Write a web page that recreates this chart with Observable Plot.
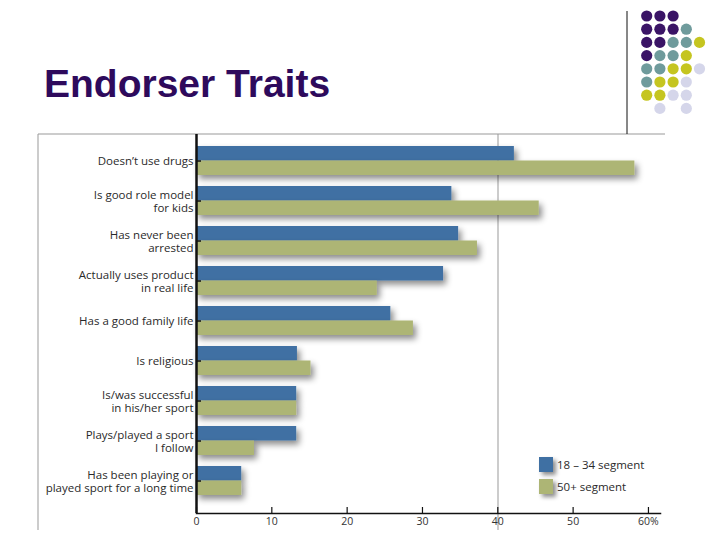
<!DOCTYPE html>
<html>
<head>
<meta charset="utf-8">
<script src="https://cdn.jsdelivr.net/npm/d3@7"></script>
<script src="https://cdn.jsdelivr.net/npm/@observablehq/plot@0.6"></script>
<style>
  html, body { margin: 0; padding: 0; background: #fff; }
  #page { position: relative; width: 720px; height: 540px; overflow: hidden; background: #fff; font-family: "Open Sans", sans-serif; }
  #title { position: absolute; left: 44px; top: 62px; margin: 0; font-family: "Liberation Sans", Arial, sans-serif; font-weight: bold; font-size: 39px; color: #2e0a5c; line-height: 44px; }
  .abs { position: absolute; }
  #chart { position: absolute; left: 0; top: 0; }
  .legend-item { position: absolute; display: flex; align-items: center; font-size: 11.5px; color: #2a2a2a; font-family: "Open Sans", sans-serif; }
  .legend-item .sw { width: 14px; height: 14.5px; margin-right: 4px; box-shadow: 3px 3px 4px rgba(0,0,0,0.45); }
</style>
</head>
<body>
<div id="page">
  <svg class="abs" style="left:0;top:0" width="720" height="540" id="deco"></svg>
  <div id="chart"></div>
  <h1 id="title">Endorser Traits</h1>
  <div id="legend"></div>
</div>
<script>
const traits = [
  "Doesn\u2019t use drugs",
  "Is good role model\nfor kids",
  "Has never been\narrested",
  "Actually uses product\nin real life",
  "Has a good family life",
  "Is religious",
  "Is/was successful\nin his/her sport",
  "Plays/played a sport\nI follow",
  "Has been playing or\nplayed sport for a long time"
];
const youngValues = [42.2, 33.9, 34.8, 32.8, 25.8, 13.4, 13.3, 13.3, 6.0];
const olderValues = [58.2, 45.5, 37.3, 24.0, 28.8, 15.2, 13.3, 7.7, 6.0];
const segments = ["18 \u2013 34 segment", "50+ segment"];
const xTicks = [0, 10, 20, 30, 40, 50, 60];
const xTickLabels = ["0", "10", "20", "30", "40", "50", "60%"];

const blue = "#3f70a3";
const green = "#adb575";

const rows = traits.map((t, i) => ({trait: t, young: youngValues[i], older: olderValues[i]}));

const plot = Plot.plot({
  width: 720,
  height: 540,
  marginLeft: 196,
  marginRight: 60,
  marginTop: 134,
  marginBottom: 27,
  x: {domain: [0, 61.6]},
  y: {domain: traits, range: [132.6, 508.2], padding: 0.284},
  style: {fontFamily: "'Open Sans', sans-serif", fontSize: "11.5px", color: "#2a2a2a", background: "transparent", overflow: "visible"},
  marks: [
    Plot.barX(rows, {y: "trait", x: "young", fill: blue, insetTop: 0, insetBottom: 14.5}),
    Plot.barX(rows, {y: "trait", x: "older", fill: green, insetTop: 14.5, insetBottom: 0}),
    Plot.axisY({tickSize: -5, tickPadding: 8, stroke: "#111", strokeWidth: 1.5, lineHeight: 1.2, fill: "#2a2a2a", label: null}),
    Plot.axisX({ticks: xTicks, tickSize: -6, tickPadding: 10, stroke: "#111", strokeWidth: 1.2, fontSize: 10.5, fill: "#333", label: null,
      tickFormat: d => xTickLabels[xTicks.indexOf(d)]}),
    Plot.frame({anchor: "bottom", stroke: "#111", strokeWidth: 1.5}),
    Plot.ruleX([0], {stroke: "#111", strokeWidth: 2.5})
  ]
});
document.getElementById("chart").appendChild(plot);

// drop shadows on bars
const svg = d3.select(plot);
const defs = svg.insert("defs", ":first-child");
const f = defs.append("filter").attr("id", "barshadow").attr("x", "-10%").attr("y", "-30%").attr("width", "130%").attr("height", "190%");
f.append("feDropShadow").attr("dx", 3).attr("dy", 4).attr("stdDeviation", 3).attr("flood-color", "#000").attr("flood-opacity", 0.45);
svg.selectAll('g[aria-label="bar"]').attr("filter", "url(#barshadow)");

// legend
const legend = document.getElementById("legend");
[blue, green].forEach((c, i) => {
  const item = document.createElement("div");
  item.className = "legend-item";
  item.style.left = "539px";
  item.style.top = (457 + i * 22) + "px";
  item.innerHTML = `<span class="sw" style="background:${c}"></span><span>${segments[i]}</span>`;
  legend.appendChild(item);
});

// slide decoration
const deco = d3.select("#deco");
deco.append("line").attr("x1", 38).attr("x2", 665).attr("y1", 134).attr("y2", 134).attr("stroke", "#999").attr("stroke-width", 1);
deco.append("line").attr("x1", 38).attr("x2", 38).attr("y1", 134).attr("y2", 530).attr("stroke", "#999").attr("stroke-width", 1);
deco.append("line").attr("x1", 498).attr("x2", 498).attr("y1", 134).attr("y2", 530).attr("stroke", "#999").attr("stroke-width", 1);
deco.append("line").attr("x1", 627).attr("x2", 627).attr("y1", 11).attr("y2", 134).attr("stroke", "#111").attr("stroke-width", 1);

const dotColors = {P: "#3a1466", T: "#6f9b9c", Y: "#c5c520", L: "#d5d6ea"};
const dotPattern = [
  "PPP..",
  "PPPT.",
  "PPTTY",
  "PTTY.",
  "TTYYL",
  "TYYL.",
  "YYLL.",
  ".L.L."
];
dotPattern.forEach((row, r) => {
  [...row].forEach((ch, c) => {
    if (ch === ".") return;
    deco.append("circle").attr("cx", 646.7 + c * 13.2).attr("cy", 16 + r * 13.2).attr("r", 5.6).attr("fill", dotColors[ch]);
  });
});
</script>
</body>
</html>
